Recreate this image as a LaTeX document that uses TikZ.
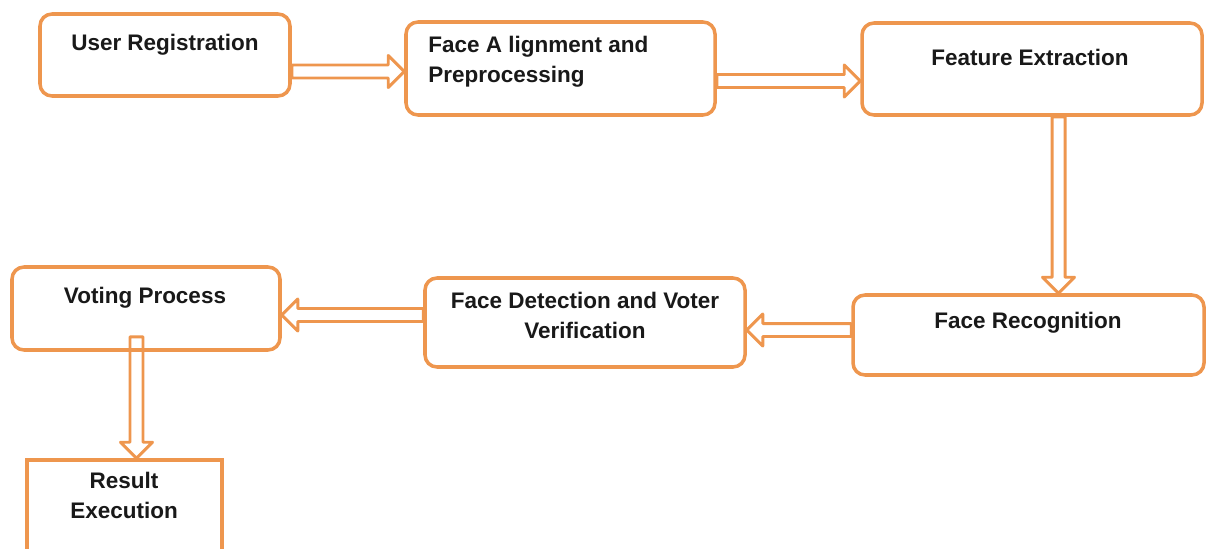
\documentclass[tikz,border=0pt]{standalone}
\usepackage{fontspec}
\setmainfont{Liberation Sans}
\usetikzlibrary{calc}
\definecolor{boxorange}{RGB}{238,150,78}
\def\sw{0.13cm}
\def\hw{0.32cm}
\def\hl{0.32cm}
\newcommand\harr[2]{\draw[arr] let \p1=(#1), \p2=(#2), \n1={ifthenelse(\x2>\x1,1,-1)} in
  ({\x1},{\y1+\sw}) -- ({\x2-(\n1)*\hl},{\y1+\sw}) -- ({\x2-(\n1)*\hl},{\y1+\hw}) -- ({\x2},{\y1})
  -- ({\x2-(\n1)*\hl},{\y1-\hw}) -- ({\x2-(\n1)*\hl},{\y1-\sw}) -- ({\x1},{\y1-\sw}) -- cycle;}
\newcommand\varr[2]{\draw[arr] let \p1=(#1), \p2=(#2), \n1={ifthenelse(\y2>\y1,1,-1)} in
  ({\x1+\sw},{\y1}) -- ({\x1+\sw},{\y2-(\n1)*\hl}) -- ({\x1+\hw},{\y2-(\n1)*\hl}) -- ({\x1},{\y2})
  -- ({\x1-\hw},{\y2-(\n1)*\hl}) -- ({\x1-\sw},{\y2-(\n1)*\hl}) -- ({\x1-\sw},{\y1}) -- cycle;}
\begin{document}
\begin{tikzpicture}[x=0.02cm,y=-0.02cm,
  box/.style={draw=boxorange, line width=2pt, rounded corners=0.24cm, fill=white, inner sep=0pt},
  sqbox/.style={draw=boxorange, line width=2pt, fill=white, inner sep=0pt},
  arr/.style={draw=boxorange, line width=1.7pt, line join=round},
  txt/.style={font=\fontsize{12.8}{17.07}\selectfont\bfseries, inner sep=0pt, text=black!90}]
\useasboundingbox (0,0) rectangle (1207,548);
\clip (0,0) rectangle (1207,548);
% boxes
\node[box, minimum width=250*0.02cm, minimum height=82*0.02cm] (u) at (165,55) {};
\node[box, minimum width=309*0.02cm, minimum height=93*0.02cm] (f) at (560.5,68.5) {};
\node[box, minimum width=340*0.02cm, minimum height=92*0.02cm] (fe) at (1032,69) {};
\node[box, minimum width=351*0.02cm, minimum height=80*0.02cm] (fr) at (1028.5,335) {};
\node[box, minimum width=320*0.02cm, minimum height=89*0.02cm] (fd) at (585,322.5) {};
\node[box, minimum width=268*0.02cm, minimum height=83*0.02cm] (vp) at (146,308.5) {};
\node[sqbox, minimum width=195*0.02cm, minimum height=100*0.02cm] (re) at (124.5,510) {};
% texts
\node[txt, anchor=base] (t1) at (165,50) {User Registration};
\node[txt, anchor=base west, align=left] (t2) at (428,82) {Face A lignment and\\Preprocessing};
\node[txt, anchor=base] (t3) at (1030,65) {Feature Extraction};
\node[txt, anchor=base] (t4) at (1028,328) {Face Recognition};
\node[txt, anchor=base, align=center] (t5) at (585,338) {Face Detection and Voter\\Verification};
\node[txt, anchor=base] (t6) at (145,303) {Voting Process};
\node[txt, anchor=base, align=center] (t7) at (124,518) {Result\\Execution};
% connector end points
\coordinate (a1s) at ($(u.east)+(0,16.5)$);
\coordinate (a1e) at ($(f.west)+(0,3)$);
\coordinate (a2s) at ($(f.east)+(0,12.5)$);
\coordinate (a2e) at ($(fe.west)+(0,12)$);
\coordinate (a3s) at ($(fe.south)+(26.5,0)$);
\coordinate (a3e) at ($(fr.north)+(30,0)$);
\coordinate (a4s) at ($(fr.west)+(0,-5)$);
\coordinate (a4e) at ($(fd.east)+(0,7.5)$);
\coordinate (a5s) at ($(fd.west)+(0,-7.5)$);
\coordinate (a5e) at ($(vp.east)+(0,6.5)$);
\coordinate (a6s) at ($(vp.south)+(-9.5,-15)$);
\coordinate (a6e) at ($(re.north)+(12,0)$);
% arrows
\harr{a1s}{a1e}
\harr{a2s}{a2e}
\varr{a3s}{a3e}
\harr{a4s}{a4e}
\harr{a5s}{a5e}
\varr{a6s}{a6e}
\end{tikzpicture}
\end{document}
